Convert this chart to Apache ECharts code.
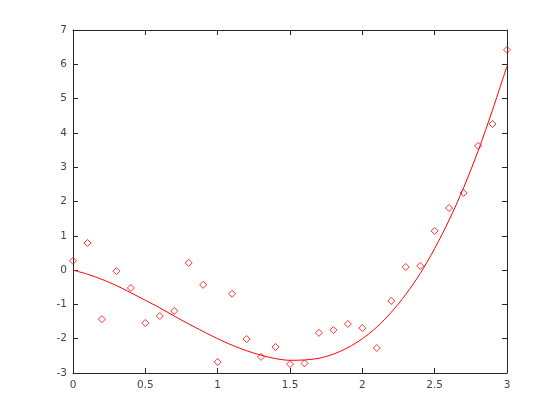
<!DOCTYPE html>
<html><head><meta charset="utf-8">
<script src="https://cdn.jsdelivr.net/npm/echarts@6/dist/echarts.min.js"></script>
<style>html,body{margin:0;padding:0;background:#fff}#c{width:560px;height:420px}</style>
</head><body><div id="c"></div>
<script>
var pointX = [0,0.1,0.2,0.3,0.4,0.5,0.6,0.7,0.8,0.9,1.0,1.1,1.2,1.3,1.4,1.5,1.6,1.7,1.8,1.9,2.0,2.1,2.2,2.3,2.4,2.5,2.6,2.7,2.8,2.9,3.0];
var pointY = [0.27,0.79,-1.43,-0.03,-0.52,-1.54,-1.34,-1.19,0.21,-0.43,-2.68,-0.69,-2.01,-2.53,-2.24,-2.74,-2.72,-1.83,-1.75,-1.57,-1.69,-2.27,-0.90,0.09,0.12,1.14,1.81,2.25,3.62,4.26,6.42];
var curveX = [0,0.1,0.2,0.3,0.4,0.5,0.6,0.7,0.8,0.9,1.0,1.1,1.2,1.3,1.4,1.5,1.6,1.7,1.8,1.9,2.0,2.1,2.2,2.3,2.4,2.5,2.6,2.7,2.8,2.9,3.0];
var curveY = [0,-0.12,-0.27,-0.45,-0.66,-0.88,-1.10,-1.34,-1.57,-1.79,-2.0,-2.19,-2.35,-2.48,-2.58,-2.63,-2.62,-2.57,-2.45,-2.26,-2.0,-1.66,-1.23,-0.71,-0.10,0.63,1.46,2.40,3.47,4.67,5.95];
var xTicks = ['0','0.5','1','1.5','2','2.5','3'];
var yTicks = ['-3','-2','-1','0','1','2','3','4','5','6','7'];

var axisCol = '#262626';
var labelStyle = {color:'#444', fontSize:10.5, fontFamily:'DejaVu Sans'};
function xLab(v){ var s = String(Math.round(v*10)/10); return xTicks.indexOf(s)>=0 ? s : ''; }
function yLab(v){ var s = String(Math.round(v)); return yTicks.indexOf(s)>=0 ? s : ''; }
var base = {type:'value', splitLine:{show:false},
  axisLine:{show:true, onZero:false, lineStyle:{color:axisCol, width:1}},
  axisTick:{show:true, inside:true, length:5, lineStyle:{color:axisCol}}};
var chart = echarts.init(document.getElementById('c'), null, {renderer:'canvas'});
chart.setOption({
  animation:false,
  backgroundColor:'#fff',
  grid:{left:73, right:53, top:30, bottom:47, containLabel:false},
  xAxis:[
    Object.assign({}, base, {position:'bottom', min:0, max:3, interval:0.5,
      axisLabel:Object.assign({formatter:xLab, margin:7}, labelStyle)}),
    Object.assign({}, base, {position:'top', min:0, max:3, interval:0.5, axisLabel:{show:false}})
  ],
  yAxis:[
    Object.assign({}, base, {position:'left', min:-3, max:7, interval:1,
      axisLabel:Object.assign({formatter:yLab, margin:6}, labelStyle)}),
    Object.assign({}, base, {position:'right', min:-3, max:7, interval:1, axisLabel:{show:false}})
  ],
  series:[
    {type:'line', xAxisIndex:0, yAxisIndex:0, showSymbol:false, smooth:0.3,
     lineStyle:{color:'#ff0000', width:1},
     data: curveX.map(function(x,i){return [x, curveY[i]];})},
    {type:'scatter', xAxisIndex:0, yAxisIndex:0, symbol:'diamond', symbolSize:7,
     itemStyle:{color:'rgba(0,0,0,0)', borderColor:'#ff0000', borderWidth:1},
     data: pointX.map(function(x,i){return [x, pointY[i]];})}
  ]
});
</script></body></html>
